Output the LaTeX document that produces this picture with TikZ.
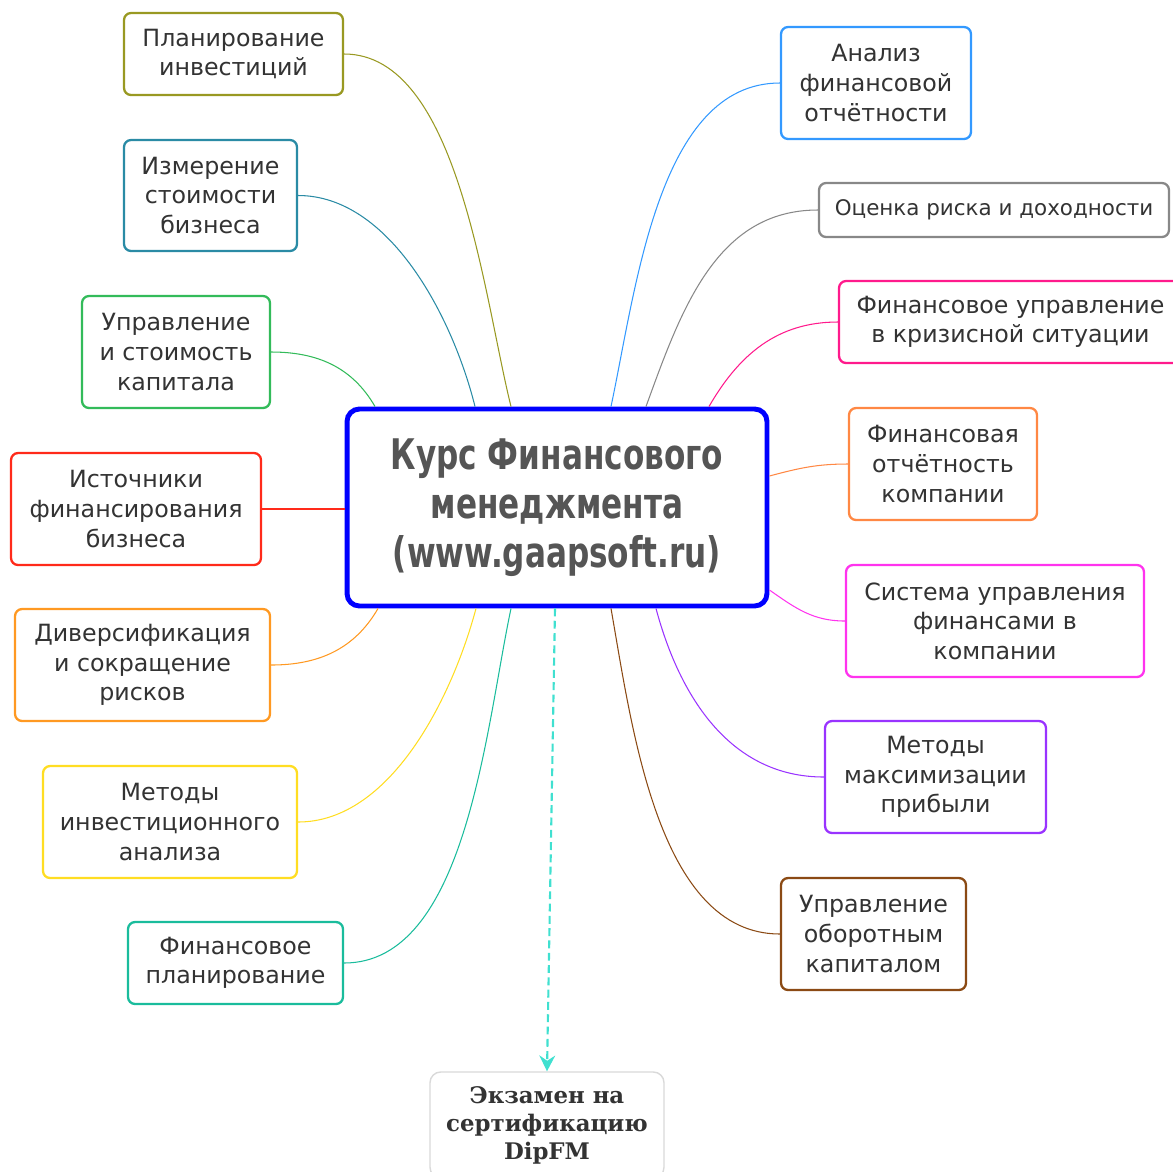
\documentclass[tikz,border=0pt]{standalone}
\usepackage{fontspec}
\setmainfont{DejaVu Sans}
\newfontfamily\titlefont{DejaVu Sans Condensed}[FakeStretch=0.82]
\newfontfamily\examfont{DejaVu Serif}
\usetikzlibrary{arrows.meta}

\definecolor{txt}{HTML}{333333}
\definecolor{ttl}{HTML}{555555}
\definecolor{cOlive}{HTML}{999922}
\definecolor{cTeal}{HTML}{2A8BA5}
\definecolor{cGreen}{HTML}{33BB5A}
\definecolor{cRed}{HTML}{FF2A1A}
\definecolor{cOrange}{HTML}{FF9922}
\definecolor{cYellow}{HTML}{FFDD22}
\definecolor{cSea}{HTML}{1ABC9C}
\definecolor{cBlue}{HTML}{3399FF}
\definecolor{cGray}{HTML}{888888}
\definecolor{cPink}{HTML}{FF1A8C}
\definecolor{cSalmon}{HTML}{FF8844}
\definecolor{cMagenta}{HTML}{FF33EE}
\definecolor{cPurple}{HTML}{9933FF}
\definecolor{cBrown}{HTML}{8B4A14}
\definecolor{cCore}{HTML}{0000FF}
\definecolor{cDash}{HTML}{40E0D0}

\tikzset{
  topic/.style={draw=#1, line width=1.3pt, rounded corners=4pt, fill=white,
    text=txt, align=center, inner sep=0pt, font=\fontsize{13.5}{16.8}\selectfont},
  link/.style={draw=#1, line width=0.6pt},
}

\begin{document}
\begin{tikzpicture}[x=0.02cm, y=0.02cm]
    \useasboundingbox (0,0) rectangle (1173,-1171);
    % centre
    \node[draw=cCore, line width=2.8pt, rounded corners=7pt, fill=white, text=ttl,
      align=center, inner sep=0pt, minimum width=8.4cm, minimum height=3.94cm,
      font=\titlefont\bfseries\fontsize{24}{27.9}\selectfont] (kurs) at (557,-507.5)
      {Курс Финансового\\менеджмента\\(www.gaapsoft.ru)};
    % left side
    \node[topic=cOlive, minimum width=4.38cm, minimum height=1.64cm] (plan) at (233.5,-54) {Планирование\\инвестиций};
    \node[topic=cTeal, minimum width=3.46cm, minimum height=2.22cm] (izm) at (210.5,-195.5) {Измерение\\стоимости\\бизнеса};
    \node[topic=cGreen, minimum width=3.76cm, minimum height=2.24cm] (upr) at (176,-352) {Управление\\и стоимость\\капитала};
    \node[topic=cRed, minimum width=5.0cm, minimum height=2.24cm] (ist) at (136,-509) {Источники\\финансирования\\бизнеса};
    \node[topic=cOrange, minimum width=5.1cm, minimum height=2.24cm] (div) at (142.5,-665) {Диверсификация\\и сокращение\\рисков};
    \node[topic=cYellow, minimum width=5.08cm, minimum height=2.24cm] (inv) at (170,-822) {Методы\\инвестиционного\\анализа};
    \node[topic=cSea, minimum width=4.3cm, minimum height=1.64cm] (fplan) at (235.5,-963) {Финансовое\\планирование};
    % right side
    \node[topic=cBlue, minimum width=3.8cm, minimum height=2.24cm] (ana) at (876,-83) {Анализ\\финансовой\\отчётности};
    \node[topic=cGray, minimum width=7.0cm, minimum height=1.08cm, font=\fontsize{12.2}{16.8}\selectfont] (ocen) at (994,-210) {Оценка риска и доходности};
    \node[topic=cPink, minimum width=6.86cm, minimum height=1.64cm] (kriz) at (1010.5,-322) {Финансовое управление\\в кризисной ситуации};
    \node[topic=cSalmon, minimum width=3.76cm, minimum height=2.24cm] (fotch) at (943,-464) {Финансовая\\отчётность\\компании};
    \node[topic=cMagenta, minimum width=5.96cm, minimum height=2.24cm] (sist) at (995,-621) {Система управления\\финансами в\\компании};
    \node[topic=cPurple, minimum width=4.42cm, minimum height=2.24cm] (maks) at (935.5,-777) {Методы\\максимизации\\прибыли};
    \node[topic=cBrown, minimum width=3.7cm, minimum height=2.24cm] (obor) at (873.5,-934) {Управление\\оборотным\\капиталом};
    % exam
    \node[draw=black!15, line width=0.8pt, rounded corners=6pt, fill=white, text=txt,
      align=center, inner sep=0pt, minimum width=4.68cm, minimum height=2.12cm,
      font=\examfont\bfseries\fontsize{13}{16}\selectfont] (exam) at (547,-1125)
      {Экзамен на\\сертификацию\\DipFM};

    % connectors
    \draw[link=cOlive] (plan.east) to[out=0, in=104, looseness=0.75] ([xshift=-0.92cm]kurs.north);
    \draw[link=cTeal] (izm.east) to[out=0, in=104, looseness=0.85] ([xshift=-1.64cm]kurs.north);
    \draw[link=cGreen] (upr.east) to[out=0, in=120] ([xshift=-3.64cm]kurs.north);
    \draw[link=cRed] (ist.east) -- (ist.east -| kurs.west);
    \draw[link=cOrange] (div.east) to[out=0, in=-120] ([xshift=-3.58cm]kurs.south);
    \draw[link=cYellow] (inv.east) to[out=0, in=-105, looseness=0.85] ([xshift=-1.62cm]kurs.south);
    \draw[link=cSea] (fplan.east) to[out=0, in=-102, looseness=0.8] ([xshift=-0.92cm]kurs.south);
    \draw[link=cBlue] ([xshift=1.08cm]kurs.north) to[out=78, in=180, looseness=0.85] (ana.west);
    \draw[link=cGray] ([xshift=1.78cm]kurs.north) to[out=70, in=180] (ocen.west);
    \draw[link=cPink] ([xshift=3.04cm]kurs.north) to[out=60, in=180] (kriz.west);
    \draw[link=cSalmon] ([yshift=0.63cm]kurs.east) to[out=15, in=180] (fotch.west);
    \draw[link=cMagenta] ([yshift=-1.65cm]kurs.east) to[out=-35, in=180] (sist.west);
    \draw[link=cPurple] ([xshift=1.98cm]kurs.south) to[out=-75, in=180] (maks.west);
    \draw[link=cBrown] ([xshift=1.08cm]kurs.south) to[out=-80, in=180, looseness=0.85] (obor.west);
    \draw[cDash, line width=1.2pt, dash pattern=on 4.5pt off 2.5pt,
      -{Stealth[length=9pt, width=9pt, inset=3pt]}]
      ([xshift=-0.04cm]kurs.south) -- (exam.north);
\end{tikzpicture}
\end{document}
